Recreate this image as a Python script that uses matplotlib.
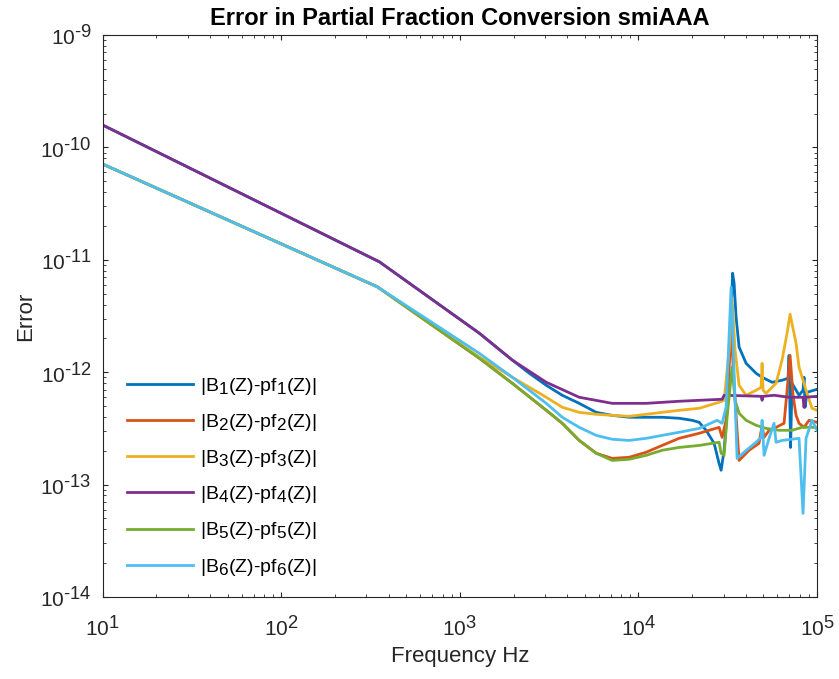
import matplotlib
matplotlib.use("Agg")
import matplotlib.pyplot as plt
import matplotlib._mathtext as mathtext_internals
from matplotlib.ticker import FuncFormatter, NullFormatter
import numpy as np

# MATLAB draws super/subscripts bigger than matplotlib's default 0.7
mathtext_internals.SHRINK_FACTOR = 0.88

plt.rcParams.update({
    "font.family": ["Liberation Sans", "DejaVu Sans"],
    "mathtext.fontset": "custom",
    "mathtext.rm": "Liberation Sans",
    "mathtext.it": "Liberation Sans:italic",
    "mathtext.bf": "Liberation Sans:bold",
})

# MATLAB default colour order
COLORS = ["#0072BD", "#D95319", "#EDB120", "#7E2F8E", "#77AC30", "#4DBEEE"]

X_TICKS = [1e1, 1e2, 1e3, 1e4, 1e5]
Y_TICKS = [1e-14, 1e-13, 1e-12, 1e-11, 1e-10, 1e-9]

# values: (frequency Hz, error)
f1 = [10, 354.6, 1286, 1967, 2448, 3047, 3745, 4661, 5801, 7131, 8878, 11050, 13580,
      16900, 19990, 21880, 23940, 26530, 28290, 29040, 30180, 31370, 32190, 33030,
      33670, 34330, 35230, 36620, 40070, 45570, 49250, 56010, 63700, 68850, 69750,
      71100, 72460, 79300, 83500, 84590, 85700, 87960, 100000]
e1 = [1.58e-10, 9.58e-12, 2.22e-12, 1.28e-12, 9.78e-13, 7.64e-13, 6.23e-13, 5.28e-13,
      4.39e-13, 4.13e-13, 3.97e-13, 3.97e-13, 3.97e-13, 3.89e-13, 3.73e-13, 3.58e-13,
      3.04e-13, 2.33e-13, 1.54e-13, 1.34e-13, 2.02e-13, 4.58e-13, 1.28e-12, 3.08e-12,
      7.60e-12, 6.19e-12, 3.08e-12, 1.67e-12, 1.20e-12, 9.78e-13, 9.01e-13, 8.13e-13,
      8.47e-13, 8.83e-13, 1.41e-12, 2.14e-13, 7.96e-13, 6.23e-13, 6.90e-13, 9.01e-13,
      4.87e-13, 6.62e-13, 7.04e-13]

f2 = [10, 345.6, 1286, 1967, 3047, 3745, 4661, 5801, 7131, 8878, 11050, 13580, 16900,
      21880, 28290, 29410, 30970, 33030, 34770, 36620, 41650, 47370, 49250, 50530,
      53880, 58960, 65390, 67970, 70660, 73410, 76300, 79300, 84590, 90220, 100000]
e2 = [7.10e-11, 5.74e-12, 1.33e-12, 7.96e-13, 4.58e-13, 3.51e-13, 2.47e-13, 1.90e-13,
      1.71e-13, 1.75e-13, 1.94e-13, 2.23e-13, 2.58e-13, 2.86e-13, 3.23e-13, 2.63e-13,
      3.73e-13, 2.36e-12, 5.62e-13, 1.64e-13, 2.02e-13, 2.33e-13, 3.37e-13, 2.63e-13,
      3.04e-13, 3.23e-13, 3.51e-13, 6.90e-13, 1.41e-12, 6.23e-13, 4.13e-13, 3.51e-13,
      3.23e-13, 3.73e-13, 3.58e-13]

f3 = [10, 345.6, 1286, 1967, 3047, 3745, 4661, 5801, 7131, 8878, 11050, 13580, 16900,
      21880, 28290, 30180, 32190, 33450, 34770, 36620, 40070, 45570, 48620, 49250,
      49890, 51850, 58960, 63700, 67970, 70660, 76300, 79300, 86800, 93760, 100000]
e3 = [7.10e-11, 5.74e-12, 1.36e-12, 9.01e-13, 5.98e-13, 4.87e-13, 4.39e-13, 4.22e-13,
      4.13e-13, 4.05e-13, 4.22e-13, 4.39e-13, 4.58e-13, 4.77e-13, 5.40e-13, 5.62e-13,
      1.57e-12, 4.55e-12, 1.57e-12, 7.64e-13, 6.23e-13, 6.90e-13, 7.34e-13, 1.20e-12,
      6.90e-13, 6.49e-13, 7.96e-13, 1.28e-12, 2.22e-12, 3.28e-12, 1.81e-12, 1.11e-12,
      6.90e-13, 4.77e-13, 4.58e-13]

f4 = [10, 354.6, 1286, 1967, 2448, 3047, 4661, 7131, 11050, 16900, 21880, 29410,
      30180, 48620, 49250, 49890, 57460, 69750, 83500, 84590, 85700, 100000]
e4 = [1.58e-10, 9.58e-12, 2.22e-12, 1.28e-12, 1.02e-12, 8.13e-13, 5.98e-13, 5.28e-13,
      5.28e-13, 5.51e-13, 5.62e-13, 5.74e-13, 6.23e-13, 6.10e-13, 5.62e-13, 6.10e-13,
      6.23e-13, 5.98e-13, 5.98e-13, 4.87e-13, 5.98e-13, 6.10e-13]

f5 = [10, 345.6, 1286, 1967, 3047, 3745, 4661, 5801, 7131, 8878, 11050, 13580, 16900,
      21880, 28290, 29040, 30180, 31370, 33450, 34770, 36620, 40070, 45570, 51850,
      61290, 72460, 82430, 100000]
e5 = [7.10e-11, 5.74e-12, 1.33e-12, 7.96e-13, 4.58e-13, 3.51e-13, 2.47e-13, 1.90e-13,
      1.64e-13, 1.68e-13, 1.82e-13, 2.02e-13, 2.14e-13, 2.23e-13, 2.38e-13, 1.90e-13,
      1.82e-13, 3.97e-13, 1.11e-12, 5.62e-13, 4.31e-13, 3.73e-13, 3.37e-13, 3.16e-13,
      3.04e-13, 3.04e-13, 3.23e-13, 3.23e-13]

f6 = [10, 345.6, 1286, 1967, 3047, 3745, 4661, 5801, 7131, 8878, 11050, 13580, 16900,
      21880, 27580, 29410, 30970, 33030, 35680, 39050, 45570, 48620, 49250, 50530,
      53880, 57460, 58960, 63700, 79300, 83500, 86800, 93760, 100000]
e6 = [7.10e-11, 5.74e-12, 1.47e-12, 9.01e-13, 5.28e-13, 3.97e-13, 3.23e-13, 2.74e-13,
      2.53e-13, 2.47e-13, 2.58e-13, 2.74e-13, 2.92e-13, 3.16e-13, 3.73e-13, 3.51e-13,
      4.87e-13, 5.70e-12, 1.71e-13, 1.94e-13, 2.38e-13, 2.63e-13, 3.73e-13, 1.82e-13,
      2.58e-13, 3.51e-13, 2.38e-13, 2.47e-13, 2.58e-13, 5.54e-14, 2.58e-13, 3.73e-13,
      3.04e-13]

series = [(f1, e1), (f2, e2), (f3, e3), (f4, e4), (f5, e5), (f6, e6)]
labels = [r"|B$_{%d}$(Z)-pf$_{%d}$(Z)|" % (i, i) for i in range(1, 7)]


def pow10_label(v, pos):
    """10^n with a short hyphen for negative exponents, like MATLAB."""
    n = int(round(np.log10(v)))
    exp = str(n).replace("-", "\u2010")
    return r"$\mathdefault{10^{%s}}$" % exp


fig = plt.figure(figsize=(8.39, 6.79), dpi=100)
ax = fig.add_axes([0.1224, 0.1208, 0.8514, 0.8277])

for (f, e), c, lab in zip(series, COLORS, labels):
    ax.loglog(f, e, color=c, lw=2.0, label=lab)

ax.set_xticks(X_TICKS)
ax.set_yticks(Y_TICKS)
ax.set_xlim(X_TICKS[0], X_TICKS[-1])
ax.set_ylim(Y_TICKS[0], Y_TICKS[-1])
for axis in (ax.xaxis, ax.yaxis):
    axis.set_major_formatter(FuncFormatter(pow10_label))
    axis.set_minor_formatter(NullFormatter())

dark = "#262626"
for s in ax.spines.values():
    s.set_color(dark)
    s.set_linewidth(0.8)
ax.tick_params(which="both", direction="in", top=True, right=True,
               colors=dark, labelcolor=dark, labelsize=15)
ax.tick_params(which="major", length=3.5, width=0.8)
ax.tick_params(which="minor", length=2, width=0.6)
ax.tick_params(axis="x", which="both", pad=13)
ax.tick_params(axis="y", which="both", pad=8)

ax.set_xlabel("Frequency Hz", fontsize=16, color=dark, labelpad=4)
ax.set_ylabel("Error", fontsize=16, color=dark, labelpad=3)
ax.set_title("Error in Partial Fraction Conversion smiAAA",
             fontsize=17, fontweight="bold", pad=7)

ax.legend(loc="upper left", bbox_to_anchor=(0.0228, 0.4075), frameon=False,
          borderaxespad=0.0, fontsize=14, handlelength=3.4,
          handletextpad=0.35, labelspacing=0.78)

fig.savefig("out.png", dpi=100)
